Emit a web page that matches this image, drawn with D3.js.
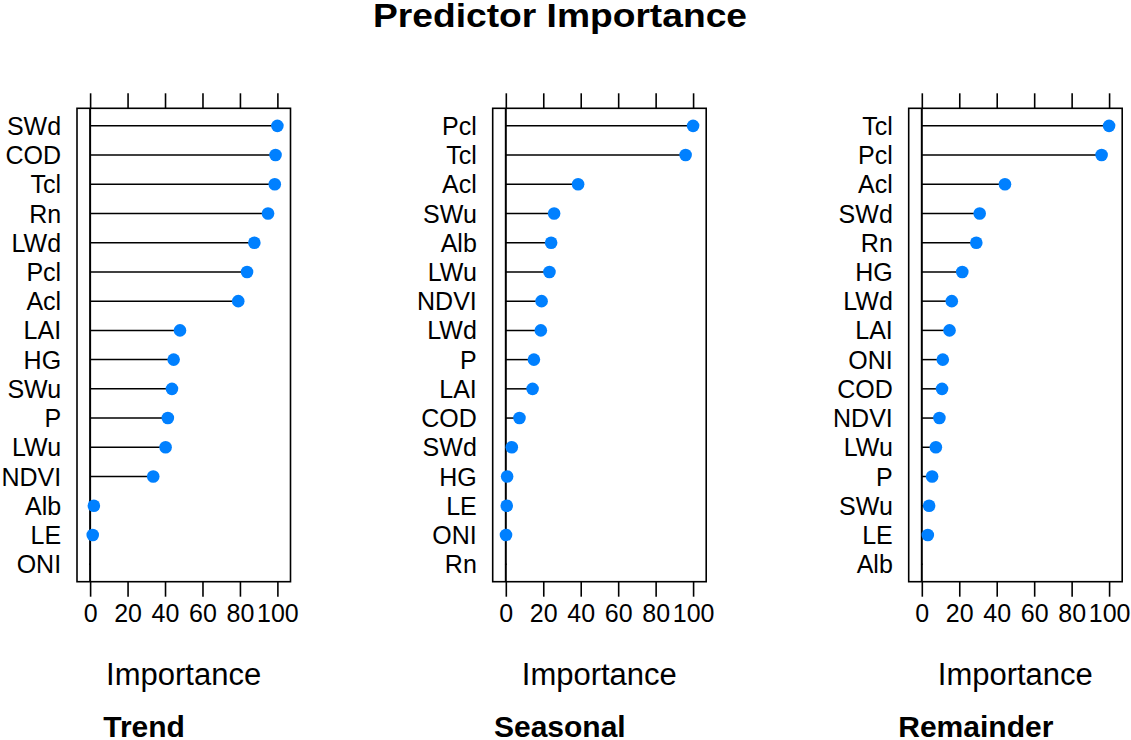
<!DOCTYPE html>
<html>
<head>
<meta charset="utf-8">
<script src="https://cdn.jsdelivr.net/npm/d3@7"></script>
<style>
  body { margin: 0; background: #fff; }
  svg text { font-family: "Liberation Sans", Arial, sans-serif; fill: #000; }
</style>
</head>
<body>
<svg id="chart" width="1131" height="740"></svg>
<script>
/* Predictor importance dot plots, one panel per decomposition component. */

const panelTitles = ['Trend', 'Seasonal', 'Remainder'];

const trendVars = ['SWd', 'COD', 'Tcl', 'Rn', 'LWd', 'Pcl', 'Acl', 'LAI', 'HG', 'SWu', 'P', 'LWu', 'NDVI', 'Alb', 'LE', 'ONI'];
const trendVals = [100, 99, 98.6, 95, 87.7, 83.8, 79.1, 48, 44.6, 43.7, 41.5, 40.3, 33.7, 2, 1.4, 0];

const seasonalVars = ['Pcl', 'Tcl', 'Acl', 'SWu', 'Alb', 'LWu', 'NDVI', 'LWd', 'P', 'LAI', 'COD', 'SWd', 'HG', 'LE', 'ONI', 'Rn'];
const seasonalVals = [100, 96, 38.6, 25.8, 24.2, 23.3, 19.1, 18.7, 15, 14.3, 7.3, 3.2, 0.7, 0.5, 0.1, 0];

const remainderVars = ['Tcl', 'Pcl', 'Acl', 'SWd', 'Rn', 'HG', 'LWd', 'LAI', 'ONI', 'COD', 'NDVI', 'LWu', 'P', 'SWu', 'LE', 'Alb'];
const remainderVals = [100, 96, 44.4, 30.9, 29.1, 21.6, 16, 14.8, 11.2, 10.8, 9.4, 7.5, 5.5, 3.9, 3.2, 0];

const xTicks = [0, 20, 40, 60, 80, 100];

const panels = [
  { title: panelTitles[0], vars: trendVars, vals: trendVals },
  { title: panelTitles[1], vars: seasonalVars, vals: seasonalVals },
  { title: panelTitles[2], vars: remainderVars, vals: remainderVals }
];

const svg = d3.select('#chart');
const boxTop = 108.3, boxBottom = 581.7, boxWidth = 213.5;
const panelLeft = [77, 492.7, 908.7];

svg.append('text')
  .attr('x', 560).attr('y', 27)
  .attr('text-anchor', 'middle')
  .attr('font-size', '33px').attr('font-weight', 'bold')
  .attr('textLength', 374).attr('lengthAdjust', 'spacingAndGlyphs')
  .text('Predictor Importance');

panels.forEach((panel, i) => {
  const left = panelLeft[i];
  const x = d3.scaleLinear().domain([-7, 107]).range([left, left + boxWidth]);
  const y = d3.scalePoint().domain(panel.vars).range([boxTop, boxBottom]).padding(0.6);
  const g = svg.append('g');
  const rows = panel.vars.map((v, k) => ({ name: v, value: panel.vals[k] }));

  // top ticks, unlabeled
  const top = g.append('g').attr('transform', `translate(0,${boxTop})`)
    .call(d3.axisTop(x).tickValues(xTicks).tickSize(15).tickFormat(''));
  top.select('.domain').remove();
  top.selectAll('line').attr('stroke', '#000').attr('stroke-width', 1.6);

  // bottom ticks with labels
  const bottom = g.append('g').attr('transform', `translate(0,${boxBottom})`)
    .call(d3.axisBottom(x).tickValues(xTicks).tickSize(15).tickPadding(8));
  bottom.select('.domain').remove();
  bottom.selectAll('line').attr('stroke', '#000').attr('stroke-width', 1.6);
  bottom.selectAll('text')
    .attr('font-size', '25px').attr('font-family', '"Liberation Sans", Arial, sans-serif')
    .attr('fill', '#000');

  // reference line at zero
  g.append('line')
    .attr('x1', x(0)).attr('x2', x(0))
    .attr('y1', boxTop).attr('y2', boxBottom)
    .attr('stroke', '#000').attr('stroke-width', 2);

  g.selectAll('.stem').data(rows).join('line')
    .attr('x1', x(0)).attr('x2', d => x(d.value))
    .attr('y1', d => y(d.name)).attr('y2', d => y(d.name))
    .attr('stroke', '#000').attr('stroke-width', 1.5);

  g.selectAll('.dot').data(rows).join('circle')
    .attr('cx', d => x(d.value)).attr('cy', d => y(d.name))
    .attr('r', d => d.value > 0 ? 6.3 : 0.9)
    .attr('fill', d => d.value > 0 ? '#0080ff' : '#000');

  // box
  g.append('rect')
    .attr('x', left).attr('y', boxTop)
    .attr('width', boxWidth).attr('height', boxBottom - boxTop)
    .attr('fill', 'none').attr('stroke', '#000').attr('stroke-width', 1.6);

  // row labels
  g.selectAll('.lab').data(rows).join('text')
    .attr('x', x(0) - 29).attr('y', d => y(d.name))
    .attr('dy', '0.36em')
    .attr('text-anchor', 'end')
    .attr('font-size', '25px')
    .text(d => d.name);

  g.append('text')
    .attr('x', x(0) + 93.5).attr('y', 685)
    .attr('text-anchor', 'middle')
    .attr('font-size', '31px')
    .text('Importance');

  g.append('text')
    .attr('x', x(0) + 54).attr('y', 737)
    .attr('text-anchor', 'middle')
    .attr('font-size', '30px').attr('font-weight', 'bold')
    .text(panel.title);
});
</script>
</body>
</html>
